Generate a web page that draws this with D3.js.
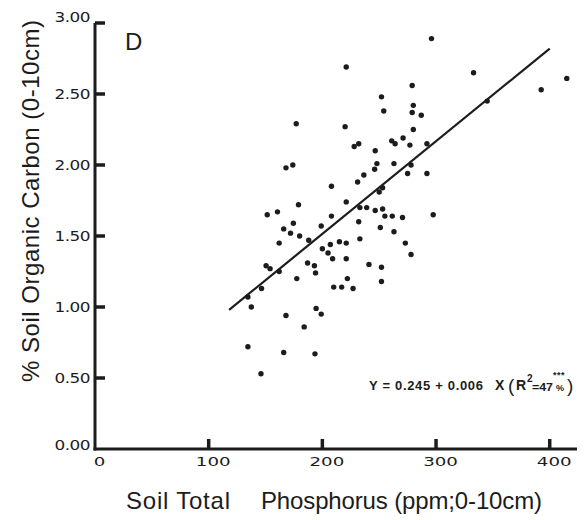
<!DOCTYPE html>
<html>
<head>
<meta charset="utf-8">
<script src="https://cdn.jsdelivr.net/npm/d3@7"></script>
<style>
  html, body { margin: 0; padding: 0; background: #fff; }
  svg { display: block; }
</style>
</head>
<body>
<svg id="chart" width="587" height="520"></svg>
<script>
// ---- data ----
const phosphorus = [
  296, 221, 333, 415, 392.5, 279, 252, 280, 254, 279,
  287, 345, 177, 220, 280, 271, 261, 264, 277, 292,
  228, 232, 246.5, 248, 263, 278, 168, 174, 246, 275,
  292, 236.5, 231, 208, 250, 253, 179, 221, 233, 239,
  246.5, 253, 255, 261.5, 270.5, 297.5, 151.5, 160.5, 208, 174.5,
  232, 166, 172, 199, 251, 263, 180, 188, 162, 215,
  207, 221, 233, 273, 200, 205, 209, 221, 187, 193,
  194, 150.5, 154, 162, 241, 252, 278, 177.5, 222, 252,
  210, 217, 227, 146.5, 137.5, 134.5, 194.5, 199, 168, 184,
  134.5, 166, 193.5, 146
];
const carbon = [
  2.89, 2.69, 2.65, 2.61, 2.53, 2.56, 2.48, 2.42, 2.38, 2.37,
  2.35, 2.45, 2.29, 2.27, 2.25, 2.19, 2.17, 2.15, 2.14, 2.15,
  2.13, 2.15, 2.10, 2.01, 2.01, 2.00, 1.98, 2.00, 1.97, 1.94,
  1.94, 1.93, 1.88, 1.85, 1.81, 1.84, 1.72, 1.74, 1.70, 1.70,
  1.68, 1.69, 1.64, 1.64, 1.63, 1.65, 1.65, 1.67, 1.64, 1.59,
  1.60, 1.55, 1.52, 1.57, 1.56, 1.53, 1.50, 1.47, 1.45, 1.46,
  1.44, 1.45, 1.48, 1.45, 1.41, 1.38, 1.34, 1.34, 1.31, 1.29,
  1.24, 1.29, 1.27, 1.25, 1.30, 1.28, 1.37, 1.20, 1.20, 1.18,
  1.14, 1.14, 1.13, 1.13, 1.00, 1.07, 0.99, 0.95, 0.94, 0.86,
  0.72, 0.68, 0.67, 0.53
];
// fitted line as drawn (end points)
const lineP = [118, 400];
const lineC = [0.98, 2.82];

const xTicks = [0, 100, 200, 300, 400];
const xTickLabels = ["0", "100", "200", "300", "400"];
const yTicks = [0, 0.5, 1, 1.5, 2, 2.5, 3];
const yTickLabels = ["0.00", "0.50", "1.00", "1.50", "2.00", "2.50", "3.00"];

const panelLabel = "D";
const xTitleA = "Soil Total";
const xTitleB = "Phosphorus (ppm;0-10cm)";
const yTitle = "% Soil Organic Carbon (0-10cm)";

// ---- drawing ----
const ink = "#1c1c1c";
const svg = d3.select("#chart");

const x = d3.scaleLinear().domain([0, 424]).range([95, 577]);
const y = d3.scaleLinear().domain([0, 3]).range([449, 23]);
const [px0, px1] = x.range();
const [py0, py1] = y.range();

// axis lines and inward tick marks
const axes = svg.append("g");
axes.append("rect").attr("x", px0 - 1.5).attr("y", py0 - 1.5)
  .attr("width", px1 - px0 + 1.5).attr("height", 3).attr("fill", ink);
axes.append("rect").attr("x", px0 - 1.5).attr("y", py1)
  .attr("width", 3).attr("height", py0 - py1 + 1.5).attr("fill", ink);
axes.append("g").selectAll("rect")
  .data(xTicks.filter(d => d > 0))
  .join("rect")
  .attr("x", d => x(d) - 1.75).attr("y", py0 - 10)
  .attr("width", 3.5).attr("height", 10)
  .attr("fill", ink);
axes.append("g").selectAll("rect")
  .data(yTicks.filter(d => d > 0))
  .join("rect")
  .attr("x", px0).attr("y", d => y(d) - 1.75)
  .attr("width", 10).attr("height", 3.5)
  .attr("fill", ink);

// regression line
const lineGen = d3.line().x(d => x(d[0])).y(d => y(d[1]));
svg.append("path")
  .datum(lineP.map((p, i) => [p, lineC[i]]))
  .attr("d", lineGen)
  .attr("fill", "none")
  .attr("stroke", ink)
  .attr("stroke-width", 2.2);

// points
svg.append("g").selectAll("circle")
  .data(phosphorus.map((p, i) => [p, carbon[i]]))
  .join("circle")
  .attr("cx", d => x(d[0]))
  .attr("cy", d => y(d[1]))
  .attr("r", 2.7)
  .attr("fill", ink);

// X axis (labels)
const gx = svg.append("g").attr("transform", "translate(0,449)")
  .call(d3.axisBottom(x).tickValues(xTicks)
    .tickFormat((d, i) => xTickLabels[i])
    .tickSize(0).tickPadding(4));
gx.select(".domain").remove();
gx.selectAll(".tick line").remove();
gx.selectAll(".tick text")
  .attr("fill", ink)
  .attr("font-family", "DejaVu Sans")
  .attr("font-size", 13)
  .attr("font-weight", 500)
  .attr("dy", "1.0em")
  .attr("dx", 4)
  .each(function () {
    const w = this.getComputedTextLength();
    d3.select(this).attr("textLength", w * 1.4).attr("lengthAdjust", "spacingAndGlyphs");
  });

// Y axis (labels)
const gy = svg.append("g").attr("transform", "translate(95,0)")
  .call(d3.axisLeft(y).tickValues(yTicks)
    .tickFormat((d, i) => yTickLabels[i])
    .tickSize(0).tickPadding(5));
gy.select(".domain").remove();
gy.selectAll(".tick line").remove();
gy.selectAll(".tick text")
  .attr("fill", ink)
  .attr("font-family", "DejaVu Sans")
  .attr("font-size", 13.5)
  .attr("font-weight", 500)
  .attr("letter-spacing", -0.4)
  .attr("dy", d => d === 3 ? "-0.12em" : d === 0 ? "0.05em" : "0.32em")
  .each(function () {
    const w = this.getComputedTextLength();
    d3.select(this).attr("textLength", w * 1.25).attr("lengthAdjust", "spacingAndGlyphs");
  });

// panel label
svg.append("text").text(panelLabel)
  .attr("x", 125).attr("y", 50)
  .attr("font-family", "Liberation Sans, Arial, sans-serif")
  .attr("font-size", 24).attr("fill", ink);

// axis titles
svg.append("text").text(xTitleA)
  .attr("x", 126).attr("y", 509)
  .attr("font-family", "Liberation Sans, Arial, sans-serif")
  .attr("font-size", 24).attr("fill", ink)
  .attr("textLength", 104).attr("lengthAdjust", "spacing");
svg.append("text").text(xTitleB)
  .attr("x", 261).attr("y", 509)
  .attr("font-family", "Liberation Sans, Arial, sans-serif")
  .attr("font-size", 24).attr("fill", ink)
  .attr("textLength", 281).attr("lengthAdjust", "spacing");

svg.append("text").text(yTitle)
  .attr("transform", "translate(39,201) rotate(-90)")
  .attr("text-anchor", "middle")
  .attr("font-family", "Liberation Sans, Arial, sans-serif")
  .attr("font-size", 24).attr("fill", ink)
  .attr("textLength", 362).attr("lengthAdjust", "spacing");

// equation
const eq = svg.append("g")
  .attr("font-family", "Liberation Sans, Arial, sans-serif")
  .attr("font-weight", "bold").attr("fill", ink);
eq.append("text").text("Y = 0.245 + 0.006")
  .attr("x", 369).attr("y", 390).attr("font-size", 13)
  .attr("textLength", 114).attr("lengthAdjust", "spacing");
eq.append("text").text("X").attr("x", 495).attr("y", 390).attr("font-size", 14);
eq.append("text").text("(").attr("x", 508).attr("y", 392).attr("font-size", 19).attr("font-weight", "normal");
eq.append("text").text("R").attr("x", 516).attr("y", 390).attr("font-size", 14);
eq.append("text").text("2").attr("x", 527).attr("y", 382).attr("font-size", 10);
eq.append("text").text("=47").attr("x", 532).attr("y", 391).attr("font-size", 11)
  .attr("textLength", 21).attr("lengthAdjust", "spacingAndGlyphs");
eq.append("text").text("%").attr("x", 556).attr("y", 391).attr("font-size", 9);
eq.append("text").text("***").attr("x", 553).attr("y", 378).attr("font-size", 9)
  .attr("letter-spacing", 0.5);
eq.append("text").text(")").attr("x", 567).attr("y", 392).attr("font-size", 19).attr("font-weight", "normal");
</script>
</body>
</html>
